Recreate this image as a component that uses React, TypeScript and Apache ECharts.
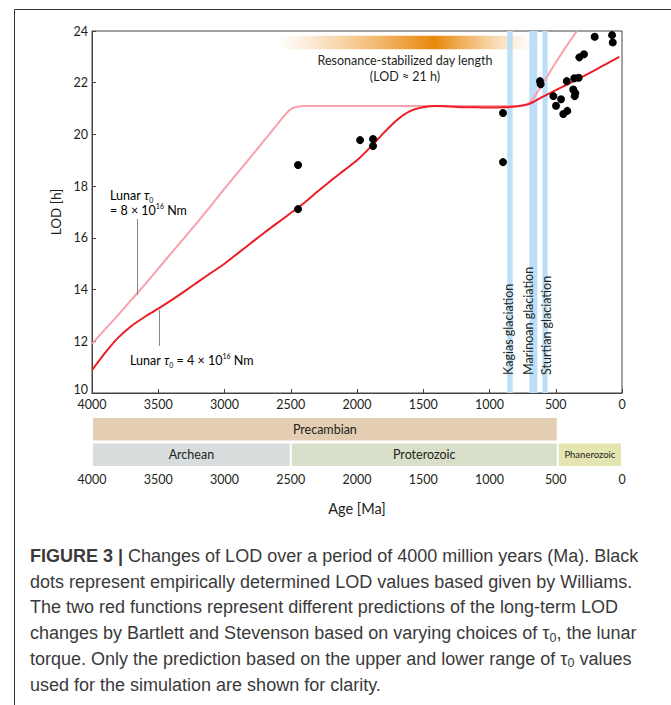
import React, { useEffect, useRef } from 'react';
import * as echarts from 'echarts';

// ---------- data ----------
const xTicks = [4000, 3500, 3000, 2500, 2000, 1500, 1000, 500, 0];
const yTicks = [10, 12, 14, 16, 18, 20, 22, 24];

// lower prediction (Lunar tau0 = 4e16 Nm)
const redAges = [4000, 3900, 3800, 3700, 3600, 3500, 3400, 3300, 3200, 3100, 3000, 2900, 2800, 2700, 2600, 2500, 2400, 2300, 2200, 2100, 2000, 1900, 1800, 1700, 1600, 1500, 1400, 1300, 1200, 1100, 1000, 900, 800, 700, 600, 500, 400, 300, 200, 100, 20];
const redLod = [10.88, 11.56, 12.15, 12.6, 12.95, 13.26, 13.59, 13.94, 14.3, 14.65, 15.0, 15.4, 15.8, 16.2, 16.58, 16.96, 17.35, 17.78, 18.2, 18.6, 19.0, 19.5, 20.05, 20.55, 20.9, 21.05, 21.1, 21.08, 21.05, 21.05, 21.04, 21.05, 21.08, 21.18, 21.45, 21.71, 21.97, 22.23, 22.5, 22.78, 23.0];

// upper prediction (Lunar tau0 = 8e16 Nm)
const pinkAges = [4000, 3900, 3800, 3700, 3600, 3500, 3400, 3300, 3200, 3100, 3000, 2900, 2800, 2700, 2600, 2500, 2400, 2300, 2200, 2100, 2000, 1900, 1800, 1700, 1600, 1500, 1400, 1300, 1200, 1100, 1000, 900, 800, 700, 600, 500, 400, 340];
const pinkLod = [11.9, 12.47, 13.03, 13.62, 14.2, 14.81, 15.42, 16.02, 16.63, 17.26, 17.9, 18.52, 19.14, 19.77, 20.4, 20.98, 21.1, 21.1, 21.1, 21.1, 21.1, 21.1, 21.1, 21.1, 21.1, 21.1, 21.1, 21.1, 21.1, 21.1, 21.1, 21.1, 21.1, 21.22, 21.95, 22.78, 23.56, 24.0];

// empirical LOD values (Williams)
const dotAges = [2445, 2445, 1977, 1879, 1879, 898, 898, 619, 614, 518, 460, 498, 417, 443, 413, 360, 327, 368, 352, 357, 322, 287, 206, 75, 70];
const dotLod = [18.82, 17.11, 19.78, 19.82, 19.55, 20.83, 18.93, 22.06, 21.94, 21.48, 21.36, 21.11, 22.06, 20.79, 20.91, 22.17, 22.19, 21.74, 21.59, 21.48, 22.98, 23.1, 23.78, 23.84, 23.56];

// glaciations (Ma)
const glaciationNames = ['Kagias glaciation', 'Marinoan glaciation', 'Sturtian glaciation'];
const glaciationFrom = [866, 700, 601];
const glaciationTo = [825, 639, 561];

// resonance-stabilized period band
const resonanceFrom = 2596;
const resonanceTo = 694;
const resonanceLodTop = 23.82;
const resonanceLodBottom = 23.29;

// geologic eons / eras
const eonNames = ['Precambian', 'Archean', 'Proterozoic', 'Phanerozoic'];
const eonFrom = [4000, 4000, 2500, 485];
const eonTo = [485, 2500, 485, 0];
const eonRow = [1, 0, 0, 0];

const captionLines = [
  '{b|FIGURE 3 |} Changes of LOD over a period of 4000 million years (Ma). Black',
  'dots represent empirically determined LOD values based given by Williams.',
  'The two red functions represent different predictions of the long-term LOD',
  'changes by Bartlett and Stevenson based on varying choices of τ{s|0}, the lunar',
  'torque. Only the prediction based on the upper and lower range of τ{s|0} values',
  'used for the simulation are shown for clarity.',
];

// ---------- styles ----------
const FONT = 'Lato, "Noto Sans", sans-serif';
const CAP_FONT = '"Liberation Sans", Arial, sans-serif';
const TXT = '#231f20';
const FS = 12.5;
const eonColors = ['#e3cdb3', '#d6dddc', '#d9e0ca', '#e4e5b0'];
const eonFontSizes = [12.5, 12.5, 12.5, 9.5];
const glacLabelDx = [-1, -5, 1];

export default function App() {
  const ref = useRef<HTMLDivElement>(null);

  useEffect(() => {
    if (!ref.current) return;
    const chart = echarts.init(ref.current, null, { renderer: 'svg' });

    const redData = redAges.map((a, i) => [a, redLod[i]]);
    const pinkData = pinkAges.map((a, i) => [a, pinkLod[i]]);
    const dotData = dotAges.map((a, i) => [a, dotLod[i]]);
    const glacData = glaciationNames.map((_, i) => [glaciationFrom[i], glaciationTo[i]]);
    const eonData = eonNames.map((_, i) => [eonFrom[i], eonTo[i], eonRow[i]]);

    const richLunar = {
      n: { fontSize: FS, fontFamily: FONT, color: TXT, lineHeight: 16 },
      t: { fontSize: FS, fontFamily: FONT, fontStyle: 'italic', color: TXT, lineHeight: 16 },
      sub: { fontSize: 7, fontFamily: FONT, color: TXT, verticalAlign: 'bottom', lineHeight: 16 },
      sup: { fontSize: 7, fontFamily: FONT, color: TXT, verticalAlign: 'top', lineHeight: 16 },
    };

    const option: any = {
      animation: false,
      backgroundColor: '#fff',
      textStyle: { fontFamily: FONT },
      grid: [
        { left: 92, top: 31, width: 530, height: 362, show: true, borderColor: '#444', borderWidth: 1, backgroundColor: 'transparent' },
        { left: 92, top: 416.5, width: 530, height: 51, show: false },
      ],
      xAxis: [
        {
          type: 'value', gridIndex: 0, min: 0, max: 4000, interval: 500, inverse: true,
          axisLine: { show: true, onZero: false, lineStyle: { color: '#444', width: 1 } },
          axisTick: { show: true, inside: true, length: 4, lineStyle: { color: '#444' } },
          axisLabel: { color: TXT, fontSize: FS, fontFamily: FONT, margin: 5, formatter: (v: number) => (xTicks.includes(v) ? String(v) : '') },
          splitLine: { show: false },
        },
        {
          type: 'value', gridIndex: 1, min: 0, max: 4000, interval: 500, inverse: true,
          axisLine: { show: false, onZero: false }, axisTick: { show: false },
          axisLabel: { color: TXT, fontSize: FS, fontFamily: FONT, margin: 5, formatter: (v: number) => String(v) },
          splitLine: { show: false },
          name: 'Age [Ma]', nameLocation: 'middle', nameGap: 33,
          nameTextStyle: { color: TXT, fontSize: 14.5, fontFamily: FONT },
        },
      ],
      yAxis: [
        {
          type: 'value', gridIndex: 0, min: 10, max: 24, interval: 2,
          axisLine: { show: true, onZero: false, lineStyle: { color: '#444', width: 1 } },
          axisTick: { show: true, inside: true, length: 4, lineStyle: { color: '#444' } },
          axisLabel: {
            color: TXT, fontSize: FS, fontFamily: FONT, margin: 4,
            formatter: (v: number) => (v === 10 ? '{low|10}' : yTicks.includes(v) ? String(v) : ''),
            rich: { low: { fontSize: FS, fontFamily: FONT, color: TXT, padding: [0, 0, 8, 0] } },
          },
          splitLine: { show: false },
          name: 'LOD [h]', nameLocation: 'middle', nameGap: 29,
          nameTextStyle: { color: TXT, fontSize: 13.5, fontFamily: FONT },
        },
        { type: 'value', gridIndex: 1, min: 0, max: 2, show: false, axisLine: { onZero: false } },
      ],
      series: [
        {
          type: 'custom', name: 'resonance', xAxisIndex: 0, yAxisIndex: 0, z: 1,
          data: [[resonanceFrom, resonanceTo, resonanceLodTop, resonanceLodBottom]],
          encode: { x: [0, 1], y: [2, 3] },
          renderItem: (params: any, api: any) => {
            const a = api.coord([api.value(0), api.value(2)]);
            const b = api.coord([api.value(1), api.value(3)]);
            return {
              type: 'rect',
              shape: { x: a[0], y: a[1], width: b[0] - a[0], height: b[1] - a[1] },
              style: {
                fill: new echarts.graphic.LinearGradient(0, 0, 1, 0, [
                  { offset: 0, color: 'rgba(240,160,60,0)' },
                  { offset: 0.62, color: 'rgba(232,135,10,1)' },
                  { offset: 1, color: 'rgba(240,160,60,0)' },
                ]),
              },
            };
          },
        },
        {
          type: 'custom', name: 'glaciations', xAxisIndex: 0, yAxisIndex: 0, z: 2,
          data: glacData,
          encode: { x: [0, 1] },
          renderItem: (params: any, api: any) => {
            const a = api.coord([api.value(0), 24]);
            const b = api.coord([api.value(1), 10]);
            const x = Math.min(a[0], b[0]);
            const w = Math.abs(b[0] - a[0]);
            return {
              type: 'group',
              children: [
                { type: 'rect', shape: { x, y: a[1], width: w, height: b[1] - a[1] }, style: { fill: '#bcdff7' } },
                {
                  type: 'text', x: x + w / 2 + glacLabelDx[params.dataIndex], y: b[1] - 18, rotation: Math.PI / 2,
                  style: { text: glaciationNames[params.dataIndex], fontSize: FS, fontFamily: FONT, fill: TXT, align: 'left', verticalAlign: 'middle' },
                },
              ],
            };
          },
        },
        {
          type: 'line', name: 'Lunar τ0 = 8 × 10^16 Nm', xAxisIndex: 0, yAxisIndex: 0, z: 3,
          data: pinkData, smooth: 0.25, showSymbol: false, symbol: 'none',
          lineStyle: { color: '#f7a1ae', width: 2 },
        },
        {
          type: 'line', name: 'Lunar τ0 = 4 × 10^16 Nm', xAxisIndex: 0, yAxisIndex: 0, z: 4,
          data: redData, smooth: 0.25, showSymbol: false, symbol: 'none',
          lineStyle: { color: '#ee1c25', width: 2 },
        },
        {
          type: 'scatter', name: 'Williams', xAxisIndex: 0, yAxisIndex: 0, z: 5,
          data: dotData, symbol: 'circle', symbolSize: 8,
          itemStyle: { color: '#000', opacity: 1 },
        },
        {
          type: 'custom', name: 'eons', xAxisIndex: 1, yAxisIndex: 1,
          data: eonData,
          encode: { x: [0, 1], y: 2 },
          renderItem: (params: any, api: any) => {
            const i = params.dataIndex;
            const row = api.value(2);
            const a = api.coord([api.value(0), row + 1]);
            const b = api.coord([api.value(1), row]);
            const x = a[0] + 1;
            const y = a[1] + 1.5;
            const w = b[0] - a[0] - 2;
            const h = b[1] - a[1] - 3;
            return {
              type: 'group',
              children: [
                { type: 'rect', shape: { x, y, width: w, height: h }, style: { fill: eonColors[i] } },
                {
                  type: 'text', x: x + w / 2, y: y + h / 2,
                  style: { text: eonNames[i], fontSize: eonFontSizes[i], fontFamily: FONT, fill: TXT, align: 'center', verticalAlign: 'middle' },
                },
              ],
            };
          },
        },
      ],
      graphic: [
        // outer frame
        { type: 'line', shape: { x1: 14.5, y1: 9.5, x2: 671, y2: 9.5 }, style: { stroke: '#333', lineWidth: 1 } },
        { type: 'line', shape: { x1: 14.5, y1: 9.5, x2: 14.5, y2: 705 }, style: { stroke: '#333', lineWidth: 1 } },
        // resonance annotation
        { type: 'text', x: 405, y: 60.5, style: { text: 'Resonance-stabilized day length', fontSize: FS, fontFamily: FONT, fill: TXT, align: 'center', verticalAlign: 'middle' }, z: 10 },
        { type: 'text', x: 405, y: 76.5, style: { text: '(LOD ≈ 21 h)', fontSize: FS, fontFamily: FONT, fill: TXT, align: 'center', verticalAlign: 'middle' }, z: 10 },
        // lunar labels
        { type: 'text', x: 110, y: 195, style: { text: '{n|Lunar }{t|τ}{sub|0}', rich: richLunar, align: 'left', verticalAlign: 'middle' }, z: 10 },
        { type: 'text', x: 110, y: 210, style: { text: '{n|= 8 × 10}{sup|16}{n| Nm}', rich: richLunar, align: 'left', verticalAlign: 'middle' }, z: 10 },
        { type: 'line', shape: { x1: 137.5, y1: 219, x2: 137.5, y2: 295 }, style: { stroke: '#888', lineWidth: 1 }, z: 10 },
        { type: 'line', shape: { x1: 159.5, y1: 310, x2: 159.5, y2: 346 }, style: { stroke: '#888', lineWidth: 1 }, z: 10 },
        { type: 'text', x: 130, y: 360.5, style: { text: '{n|Lunar }{t|τ}{sub|0}{n| = 4 × 10}{sup|16}{n| Nm}', rich: richLunar, align: 'left', verticalAlign: 'middle' }, z: 10 },
        // caption
        ...captionLines.map((line, i) => ({
          type: 'text', x: 30, y: 556 + i * 25.7,
          style: {
            text: line, fontSize: 18, fontFamily: CAP_FONT, fill: '#3a3a3a', align: 'left', verticalAlign: 'middle',
            rich: {
              b: { fontSize: 18, fontFamily: CAP_FONT, fontWeight: 'bold', color: '#2a2a2a', lineHeight: 22 },
              s: { fontSize: 12.5, fontFamily: CAP_FONT, color: '#3a3a3a', verticalAlign: 'bottom', lineHeight: 22 },
            },
          },
        })),
      ],
    };

    chart.setOption(option);
    return () => chart.dispose();
  }, []);

  return <div ref={ref} style={{ position: 'absolute', left: 0, top: 0, width: 671, height: 705 }} />;
}
